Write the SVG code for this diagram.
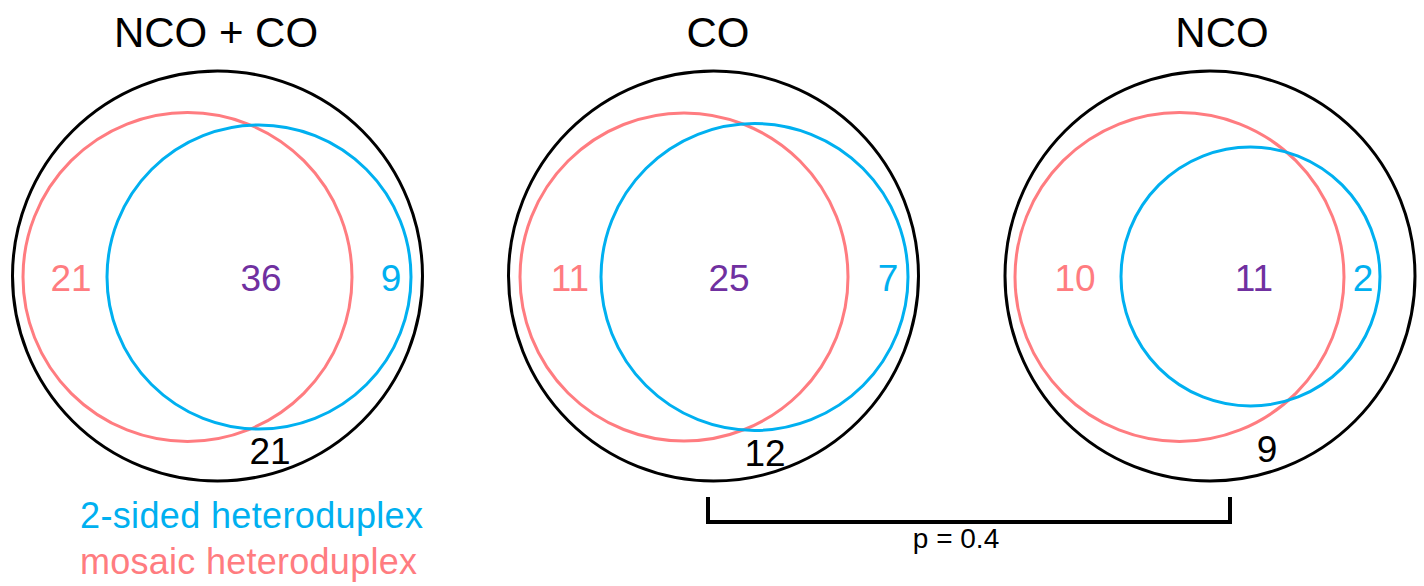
<svg xmlns="http://www.w3.org/2000/svg" width="1424" height="586" viewBox="0 0 1424 586">
<style>
text { font-family: "Liberation Sans", Arial, sans-serif; text-anchor: middle; }
.title { font-size: 42px; fill: #000; }
.num { font-size: 37px; }
.pink { fill: #FF7C80; }
.blue { fill: #00B0F0; }
.purple { fill: #7030A0; }
.black { fill: #000; }
.outer { fill: none; stroke: #000; stroke-width: 3; }
.cp { fill: none; stroke: #FF7C80; stroke-width: 3; }
.cb { fill: none; stroke: #00B0F0; stroke-width: 3; }
.legend { font-size: 36px; text-anchor: start; }
</style>
<rect width="1424" height="586" fill="#fff"/>
<g id="panel-nco-co">
  <text class="title" x="216" y="47">NCO + CO</text>
  <circle class="outer" cx="217.5" cy="276" r="205"/>
  <circle class="cp" cx="187.5" cy="277" r="164.5"/>
  <circle class="cb" cx="259" cy="277" r="152"/>
  <text class="num pink" x="71" y="291">21</text>
  <text class="num purple" x="261" y="291">36</text>
  <text class="num blue" x="391" y="291">9</text>
  <text class="num black" x="270" y="464">21</text>
</g>
<g id="panel-co">
  <text class="title" x="718" y="47">CO</text>
  <circle class="outer" cx="713.5" cy="276" r="205"/>
  <circle class="cp" cx="684" cy="277" r="164"/>
  <circle class="cb" cx="754.5" cy="277" r="153.5"/>
  <text class="num pink" x="570" y="291">11</text>
  <text class="num purple" x="729" y="291">25</text>
  <text class="num blue" x="888" y="291">7</text>
  <text class="num black" x="765" y="466">12</text>
</g>
<g id="panel-nco">
  <text class="title" x="1222" y="47">NCO</text>
  <circle class="outer" cx="1210" cy="276" r="205"/>
  <circle class="cp" cx="1179.5" cy="277" r="164.5"/>
  <circle class="cb" cx="1250.5" cy="276.5" r="129.5"/>
  <text class="num pink" x="1075" y="291">10</text>
  <text class="num purple" x="1254" y="291">11</text>
  <text class="num blue" x="1363" y="291">2</text>
  <text class="num black" x="1267" y="462">9</text>
</g>
<g id="legend">
  <text class="legend blue" x="80" y="528" textLength="343">2-sided heteroduplex</text>
  <text class="legend pink" x="80" y="574" textLength="337">mosaic heteroduplex</text>
</g>
<g id="connectors">
  <path d="M708 497 V522 H1230 V497" fill="none" stroke="#000" stroke-width="4"/>
  <text x="956" y="548" style="font-size:28px" fill="#000">p = 0.4</text>
</g>
</svg>
